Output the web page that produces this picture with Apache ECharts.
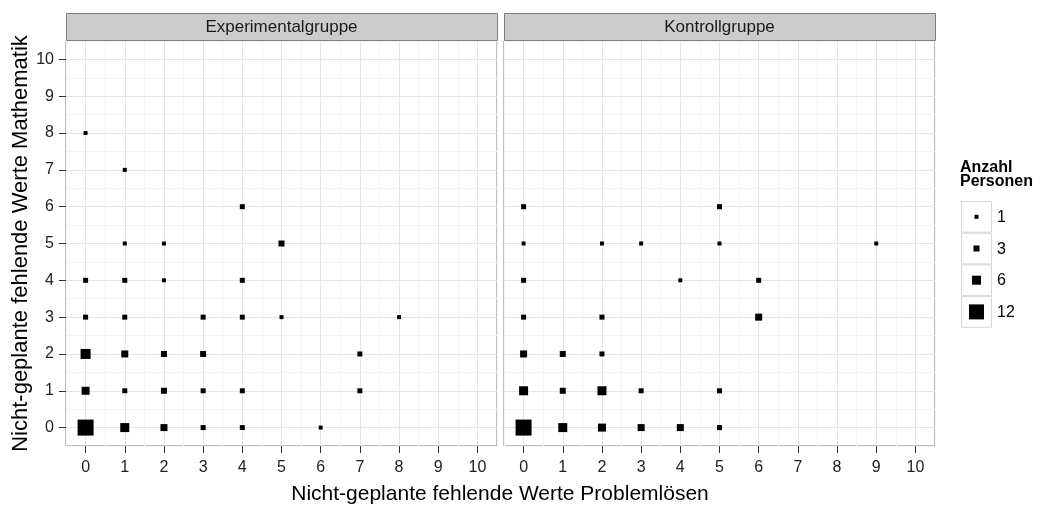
<!DOCTYPE html>
<html>
<head>
<meta charset="utf-8">
<script src="https://cdn.jsdelivr.net/npm/echarts@6/dist/echarts.min.js"></script>
<style>
  html, body { margin: 0; padding: 0; background: #fff; }
  #chart { width: 1052px; height: 505px; }
</style>
</head>
<body>
<div id="chart"></div>
<script>
var expX = [0, 1, 4, 1, 2, 5, 0, 1, 2, 4, 0, 1, 3, 4, 5, 8, 0, 1, 2, 3, 7, 0, 1, 2, 3, 4, 7, 0, 1, 2, 3, 4, 6]
var expY = [8, 7, 6, 5, 5, 5, 4, 4, 4, 4, 3, 3, 3, 3, 3, 3, 2, 2, 2, 2, 2, 1, 1, 1, 1, 1, 1, 0, 0, 0, 0, 0, 0]
var expN = [1, 1, 2, 1, 1, 3, 2, 2, 1, 2, 2, 2, 2, 2, 1, 1, 7, 4, 3, 3, 2, 5, 2, 3, 2, 2, 2, 13, 6, 4, 2, 2, 1]

var ctrlX = [0, 5, 0, 2, 3, 5, 9, 0, 4, 6, 0, 2, 6, 0, 1, 2, 0, 1, 2, 3, 5, 0, 1, 2, 3, 4, 5]
var ctrlY = [6, 6, 5, 5, 5, 5, 5, 4, 4, 4, 3, 3, 3, 2, 2, 2, 1, 1, 1, 1, 1, 0, 0, 0, 0, 0, 0]
var ctrlN = [2, 2, 1, 1, 1, 1, 1, 2, 1, 2, 2, 2, 4, 4, 3, 2, 6, 3, 6, 2, 2, 13, 6, 5, 4, 4, 2]

var panels = ['Experimentalgruppe', 'Kontrollgruppe']
var ticks = [0, 1, 2, 3, 4, 5, 6, 7, 8, 9, 10]
var legendValues = [1, 3, 6, 12]

var font = 'Liberation Sans, Arial, sans-serif'

function sizeOf(n) {
  return 3 + n
}

function toPoints(xs, ys, ns) {
  return xs.map(function(x, i) { return [x, ys[i], ns[i]] })
}

var grids = [
  { left: 66, top: 41, width: 431, height: 405 },
  { left: 504, top: 41, width: 431, height: 405 }
]

function minorAxis(gridIndex, isY) {
  return {
    type: 'value',
    gridIndex: gridIndex,
    position: isY ? 'left' : 'bottom',
    min: -0.5,
    max: 10.5,
    interval: 0.5,
    axisLine: { show: false, onZero: false },
    axisTick: { show: false },
    axisLabel: { show: false },
    splitLine: { show: true, lineStyle: { color: '#f5f5f5', width: 1 } },
    z: 0
  }
}

function majorAxis(gridIndex, isY) {
  return {
    type: 'value',
    gridIndex: gridIndex,
    position: isY ? 'left' : 'bottom',
    min: -0.5,
    max: 10.5,
    axisLine: { show: false, onZero: false },
    axisTick: {
      show: true,
      length: 7,
      customValues: ticks,
      lineStyle: { color: '#333333', width: 1 }
    },
    axisLabel: {
      customValues: ticks,
      color: '#222222',
      fontSize: 16,
      fontFamily: font,
      margin: isY ? 12 : 14
    },
    splitLine: { show: true, lineStyle: { color: '#e5e5e5', width: 1 } },
    z: 1
  }
}

var xAxes = [minorAxis(0, false), minorAxis(1, false), majorAxis(0, false), majorAxis(1, false)]
var yAxes = [minorAxis(0, true), minorAxis(1, true), majorAxis(0, true), majorAxis(1, true)]
// rechtes Panel: keine y-Beschriftung
yAxes[3].axisLabel.show = false
yAxes[3].axisTick.show = false
yAxes[2].name = 'Nicht-geplante fehlende Werte Mathematik'
yAxes[2].nameLocation = 'middle'
yAxes[2].nameGap = 32
yAxes[2].nameTextStyle = { fontSize: 22, fontFamily: font, color: '#000000' }

var graphics = []
// Streifen über den Panels
grids.forEach(function(g, i) {
  graphics.push({
    type: 'rect',
    shape: { x: g.left + 0.5, y: 13.5, width: g.width, height: 27 },
    style: { fill: '#cccccc', stroke: '#7f7f7f', lineWidth: 1 },
    z: 10
  })
  graphics.push({
    type: 'text',
    x: g.left + g.width / 2,
    y: 27.5,
    style: {
      text: panels[i],
      fontSize: 17,
      fontFamily: font,
      fill: '#1a1a1a',
      textAlign: 'center',
      textVerticalAlign: 'middle'
    },
    z: 11
  })
})

// x-Achsentitel für beide Panels
graphics.push({
  type: 'text',
  x: 500,
  y: 494,
  style: {
    text: 'Nicht-geplante fehlende Werte Problemlösen',
    fontSize: 21,
    fontFamily: font,
    fill: '#000000',
    textAlign: 'center',
    textVerticalAlign: 'middle'
  }
})

// Größenlegende
graphics.push({
  type: 'text',
  x: 960,
  y: 161,
  style: {
    text: 'Anzahl\nPersonen',
    fontSize: 16,
    fontWeight: 'bold',
    fontFamily: font,
    lineHeight: 14,
    fill: '#000000'
  }
})
legendValues.forEach(function(v, i) {
  var top = 201 + i * 31.7
  graphics.push({
    type: 'rect',
    shape: { x: 961.5, y: top + 0.5, width: 30, height: 30.7 },
    style: { fill: '#ffffff', stroke: '#d6d6d6', lineWidth: 1 }
  })
  var s = sizeOf(v)
  graphics.push({
    type: 'rect',
    shape: { x: 976.5 - s / 2, y: top + 15.8 - s / 2, width: s, height: s },
    style: { fill: '#000000' }
  })
  graphics.push({
    type: 'text',
    x: 997,
    y: top + 16.5,
    style: {
      text: String(v),
      fontSize: 16,
      fontFamily: font,
      fill: '#000000',
      textVerticalAlign: 'middle'
    }
  })
})

function scatter(data, idx) {
  return {
    type: 'scatter',
    xAxisIndex: idx + 2,
    yAxisIndex: idx + 2,
    symbol: 'rect',
    symbolSize: function(val) { return sizeOf(val[2]) },
    itemStyle: { color: '#000000', opacity: 1 },
    data: data,
    clip: false,
    z: 5
  }
}

var chart = echarts.init(document.getElementById('chart'), null, { renderer: 'canvas' })
chart.setOption({
  backgroundColor: '#ffffff',
  animation: false,
  grid: grids.map(function(g) {
    return {
      left: g.left,
      top: g.top,
      width: g.width,
      height: g.height,
      show: true,
      backgroundColor: '#ffffff',
      borderColor: '#7f7f7f',
      borderWidth: 1
    }
  }),
  xAxis: xAxes,
  yAxis: yAxes,
  graphic: graphics,
  series: [
    scatter(toPoints(expX, expY, expN), 0),
    scatter(toPoints(ctrlX, ctrlY, ctrlN), 1)
  ]
})
</script>
</body>
</html>
